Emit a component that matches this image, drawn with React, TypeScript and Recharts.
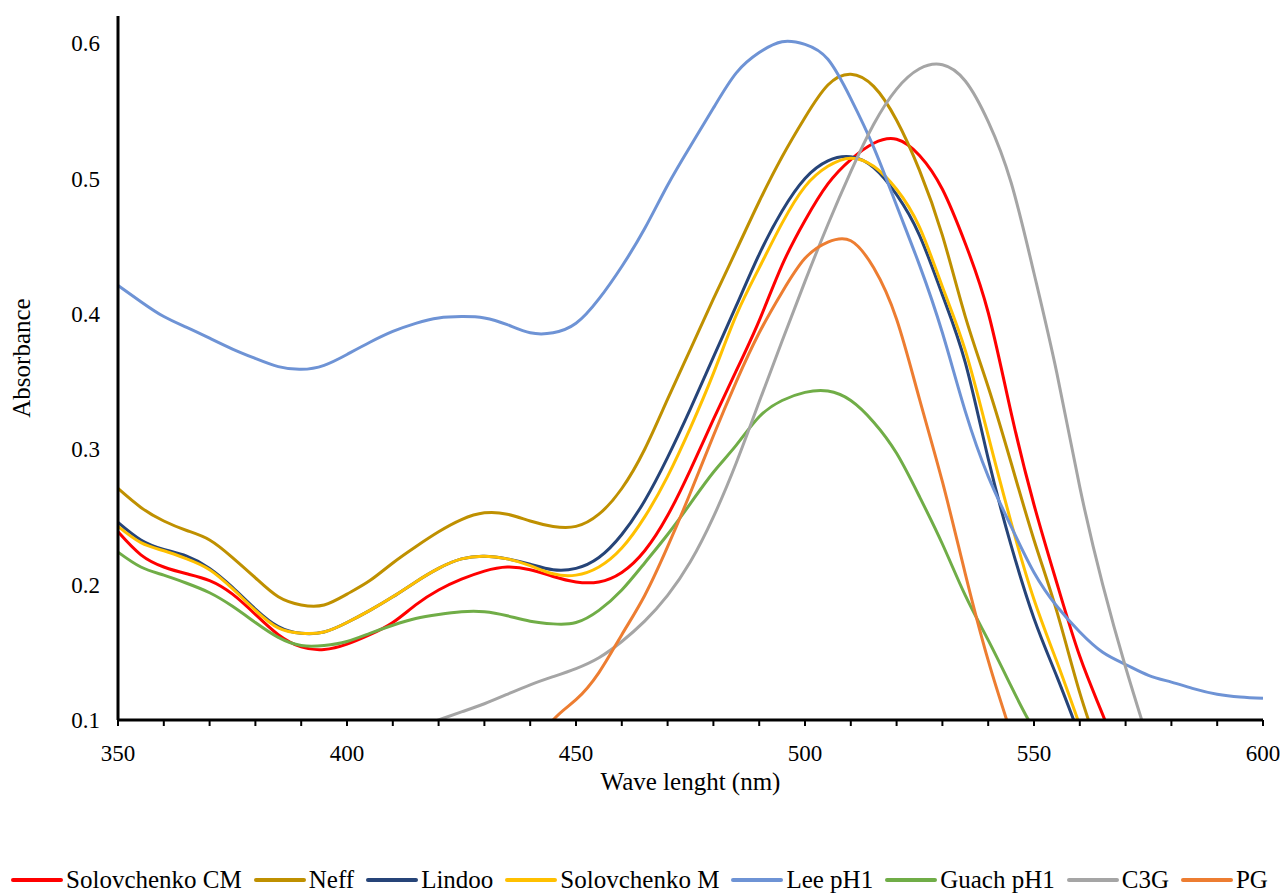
import { LineChart, Line, XAxis, YAxis, Legend, Label } from 'recharts';

// wavelength grid (nm)
const wavelengths = [
  350, 355, 360, 365, 370, 375, 380, 385, 390, 395, 400, 405, 410, 415, 420, 425, 430,
  435, 440, 445, 450, 455, 460, 465, 470, 475, 480, 485, 490, 495, 500, 505, 510, 515,
  520, 525, 530, 535, 540, 545, 550, 555, 560, 565, 570, 575, 580, 585, 590, 595, 600,
];

const solovchenkoCM = [
  0.239, 0.222, 0.213, 0.208, 0.203, 0.193, 0.178, 0.163, 0.154, 0.152, 0.156, 0.163, 0.172,
  0.185, 0.196, 0.204, 0.210, 0.213, 0.211, 0.206, 0.202, 0.202, 0.209, 0.225, 0.251, 0.285,
  0.322, 0.358, 0.395, 0.436, 0.469, 0.496, 0.514, 0.526, 0.529, 0.517, 0.492, 0.452, 0.401,
  0.327, 0.259, 0.201, 0.147, 0.104, 0.06, null, null, null, null, null, null,
];

const neff = [
  0.271, 0.257, 0.247, 0.240, 0.233, 0.220, 0.205, 0.191, 0.185, 0.185, 0.193, 0.203, 0.216,
  0.228, 0.239, 0.248, 0.253, 0.252, 0.247, 0.243, 0.243, 0.252, 0.271, 0.300, 0.337, 0.374,
  0.411, 0.447, 0.483, 0.516, 0.545, 0.569, 0.577, 0.568, 0.543, 0.506, 0.458, 0.398, 0.346,
  0.290, 0.233, 0.180, 0.120, 0.07, null, null, null, null, null, null, null,
];

const lindoo = [
  0.246, 0.233, 0.226, 0.221, 0.212, 0.198, 0.182, 0.169, 0.164, 0.165, 0.172, 0.181, 0.191,
  0.202, 0.212, 0.219, 0.221, 0.219, 0.215, 0.211, 0.212, 0.220, 0.237, 0.262, 0.294, 0.330,
  0.368, 0.406, 0.444, 0.476, 0.500, 0.513, 0.516, 0.508, 0.488, 0.458, 0.414, 0.364, 0.293,
  0.229, 0.175, 0.132, 0.088, null, null, null, null, null, null, null, null,
];

const solovchenkoM = [
  0.243, 0.231, 0.225, 0.219, 0.211, 0.197, 0.181, 0.168, 0.164, 0.165, 0.172, 0.181, 0.191,
  0.202, 0.212, 0.219, 0.221, 0.219, 0.214, 0.208, 0.207, 0.213, 0.227, 0.250, 0.280, 0.316,
  0.356, 0.399, 0.434, 0.467, 0.494, 0.509, 0.515, 0.509, 0.492, 0.464, 0.420, 0.373, 0.310,
  0.246, 0.189, 0.143, 0.096, null, null, null, null, null, null, null, null,
];

const leePH1 = [
  0.421, 0.409, 0.398, 0.390, 0.382, 0.374, 0.367, 0.361, 0.359, 0.362, 0.370, 0.379, 0.387,
  0.393, 0.397, 0.398, 0.397, 0.392, 0.386, 0.386, 0.393, 0.411, 0.435, 0.463, 0.495, 0.524,
  0.552, 0.578, 0.593, 0.601, 0.599, 0.588, 0.559, 0.523, 0.480, 0.436, 0.386, 0.328, 0.280,
  0.243, 0.209, 0.184, 0.165, 0.150, 0.141, 0.133, 0.128, 0.123, 0.119, 0.117, 0.116,
];

const guachPH1 = [
  0.224, 0.213, 0.207, 0.201, 0.194, 0.184, 0.172, 0.161, 0.155, 0.155, 0.158, 0.164, 0.170,
  0.175, 0.178, 0.180, 0.180, 0.177, 0.173, 0.171, 0.172, 0.181, 0.196, 0.216, 0.237, 0.260,
  0.283, 0.303, 0.324, 0.336, 0.342, 0.343, 0.336, 0.320, 0.297, 0.265, 0.230, 0.192, 0.159,
  0.125, 0.093, 0.07, null, null, null, null, null, null, null, null, null,
];

const c3g = [
  null, null, null, null, null, null, null, null, null, null, null, null, null,
  0.094, 0.100, 0.106, 0.112, 0.119, 0.126, 0.132, 0.138, 0.146, 0.158, 0.173, 0.192, 0.217,
  0.250, 0.290, 0.335, 0.380, 0.424, 0.466, 0.505, 0.540, 0.566, 0.581, 0.584, 0.572, 0.542,
  0.497, 0.430, 0.356, 0.272, 0.200, 0.139, 0.084, null, null, null, null, null,
];

const pg = [
  null, null, null, null, null, null, null, null, null, null, null, null, null,
  null, null, null, null, null, 0.075, 0.100, 0.115, 0.135, 0.163, 0.192, 0.228, 0.268,
  0.310, 0.350, 0.386, 0.416, 0.441, 0.453, 0.454, 0.434, 0.396, 0.337, 0.276, 0.208, 0.144,
  0.09, null, null, null, null, null, null, null, null, null, null, null,
];

const xTicks = [
  350, 360, 370, 380, 390, 400, 410, 420, 430, 440, 450, 460, 470, 480, 490, 500, 510, 520,
  530, 540, 550, 560, 570, 580, 590, 600,
];
const yTicks = [0.1, 0.2, 0.3, 0.4, 0.5, 0.6];

const series = [
  { key: 'cm', name: 'Solovchenko CM', color: '#FF0000', values: solovchenkoCM },
  { key: 'neff', name: 'Neff', color: '#BF9000', values: neff },
  { key: 'lindoo', name: 'Lindoo', color: '#264478', values: lindoo },
  { key: 'm', name: 'Solovchenko M', color: '#FFC000', values: solovchenkoM },
  { key: 'lee', name: 'Lee pH1', color: '#6E93D5', values: leePH1 },
  { key: 'guach', name: 'Guach pH1', color: '#70AD47', values: guachPH1 },
  { key: 'c3g', name: 'C3G', color: '#A5A5A5', values: c3g },
  { key: 'pg', name: 'PG', color: '#ED7D31', values: pg },
];

const data = wavelengths.map((nm, i) => {
  const row: Record<string, number | null> = { nm };
  series.forEach((s) => {
    row[s.key] = s.values[i];
  });
  return row;
});

const FONT = "'Liberation Serif', serif";

function LegendContent() {
  return (
    <div
      style={{
        display: 'flex',
        justifyContent: 'center',
        alignItems: 'center',
        height: 24,
        fontSize: 25,
        fontFamily: FONT,
        color: '#000',
        whiteSpace: 'nowrap',
        paddingLeft: 8,
      }}
    >
      {series.map((s) => (
        <span key={s.key} style={{ display: 'inline-flex', alignItems: 'center', margin: '0 6px' }}>
          <svg width={52} height={6}>
            <line x1={2} y1={3} x2={50} y2={3} stroke={s.color} strokeWidth={4} strokeLinecap="round" />
          </svg>
          <span style={{ marginLeft: 3 }}>{s.name}</span>
        </span>
      ))}
    </div>
  );
}

export default function App() {
  return (
    <div style={{ width: 1272, height: 885, fontFamily: FONT }}>
      <LineChart width={1272} height={885} data={data} margin={{ top: 8, right: 17, left: 0, bottom: 1 }}>
        <XAxis
          dataKey="nm"
          type="number"
          domain={[350, 600]}
          ticks={xTicks}
          interval={0}
          tickFormatter={(v: number) => (v % 50 === 0 ? String(v) : '')}
          tick={{ fontSize: 23, fill: '#000' }}
          tickSize={6}
          tickMargin={19}
          tickLine={{ stroke: '#000', strokeWidth: 2 }}
          axisLine={{ stroke: '#000', strokeWidth: 3 }}
          height={148}
        >
          <Label value="Wave lenght (nm)" position="insideBottom" offset={78} fontSize={25} fill="#000" />
        </XAxis>
        <YAxis
          type="number"
          domain={[0.1, 0.62]}
          ticks={yTicks}
          allowDataOverflow
          tickFormatter={(v: number) => v.toFixed(1)}
          tick={{ fontSize: 23, fill: '#000' }}
          tickLine={false}
          tickSize={0}
          tickMargin={18}
          axisLine={{ stroke: '#000', strokeWidth: 3 }}
          width={110}
        >
          <Label
            content={({ viewBox }: any) => {
              const cx = viewBox.x + 13;
              const cy = viewBox.y + viewBox.height / 2 - 10;
              return (
                <text
                  x={cx}
                  y={cy}
                  transform={`rotate(-90, ${cx}, ${cy})`}
                  textAnchor="middle"
                  dominantBaseline="central"
                  fontSize={25}
                  fill="#000"
                >
                  Absorbance
                </text>
              );
            }}
          />
        </YAxis>
        <Legend verticalAlign="bottom" content={() => <LegendContent />} />
        {series.map((s) => (
          <Line
            key={s.key}
            type="natural"
            dataKey={s.key}
            name={s.name}
            stroke={s.color}
            strokeWidth={3}
            dot={false}
            activeDot={false}
            isAnimationActive={false}
          />
        ))}
      </LineChart>
    </div>
  );
}
